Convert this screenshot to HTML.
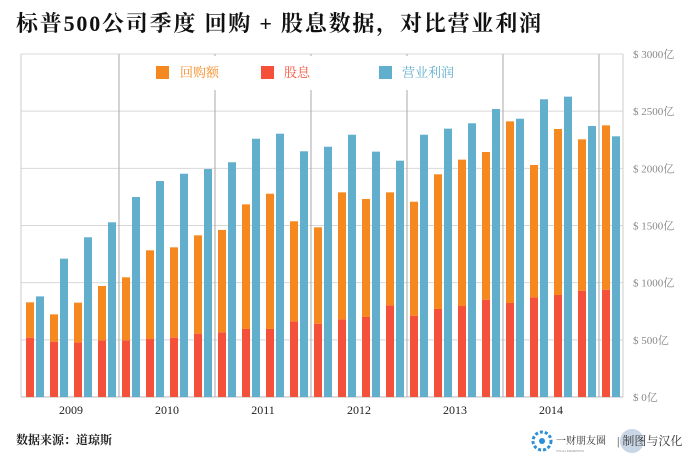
<!DOCTYPE html>
<html><head><meta charset="utf-8"><style>
body{margin:0;background:#fff;width:700px;height:471px;overflow:hidden;font-family:"Liberation Serif","Noto Serif CJK SC",serif;}
svg text{font-family:"Liberation Serif","Noto Serif CJK SC",serif;}
</style></head><body>
<svg id="chart" width="700" height="471">
<text x="16" y="31" font-size="22" font-weight="bold" letter-spacing="1.8" fill="#111">标普500公司季度 回购 + 股息数据，对比营业利润</text>
<g id="grid"></g><g id="bars"></g><g id="legend"></g><g id="axis"></g>
<text x="16" y="444" font-size="12" font-weight="bold" fill="#222">数据来源：道琼斯</text>
<g>
<circle cx="632" cy="441" r="12" fill="#c9d6e6"/>
<circle cx="542" cy="441" r="9" fill="none" stroke="#2a8fd8" stroke-width="3" stroke-dasharray="3 2"/>
<circle cx="542" cy="441" r="3" fill="#2a8fd8"/>
<text x="556" y="444" font-size="10" fill="#333">一财朋友圈</text>
<text x="556" y="452" font-size="3.5" fill="#888">YICAI MOMENTS</text>
<text x="617" y="445" font-size="12" fill="#333">| 制图与汉化</text>
</g>
</svg>
<script>
const years=['2009','2010','2011','2012','2013','2014'];
const dividends=[519,484,478,496,496,507,519,554,566,595,595,662,641,679,700,802,711,770,796,851,822,872,892,930,938];
const buybacks=[309,239,347,475,551,776,790,860,895,1090,1183,875,843,1111,1032,988,997,1178,1280,1292,1589,1157,1452,1324,1438];
const profits=[880,1210,1397,1528,1749,1889,1953,1994,2053,2259,2303,2149,2189,2294,2146,2067,2294,2347,2394,2519,2434,2604,2627,2370,2280];
const yTicks=[0,500,1000,1500,2000,2500,3000];
const NS='http://www.w3.org/2000/svg';
const L=21,R=623,T=54,B=397,MAX=3000;
const y=v=>B-(v/MAX)*(B-T);
const x=i=>26+i*24;
function mk(tag,attrs,parent,txt){const e=document.createElementNS(NS,tag);for(const k in attrs)e.setAttribute(k,attrs[k]);if(txt!==undefined)e.textContent=txt;parent.appendChild(e);return e;}
const grid=document.getElementById('grid'),bars=document.getElementById('bars'),axis=document.getElementById('axis'),leg=document.getElementById('legend');
yTicks.forEach(t=>{
 const ln=mk('line',{x1:L,x2:R,y1:y(t),y2:y(t),stroke:'#d8d8d8','stroke-width':1},grid);
 
 
 const tx=mk('text',{x:633,y:y(t)+4,'font-size':11,fill:'#888'},axis,'$ '+t+'亿');
 
 
});
mk('line',{x1:L,x2:L,y1:T,y2:B,stroke:'#ccc'},grid);
mk('line',{x1:R,x2:R,y1:T,y2:B,stroke:'#ccc'},grid);
mk('line',{x1:L,x2:R,y1:B,y2:B,stroke:'#bbb'},grid);
const n=profits.length;
for(let k=1;k<=years.length;k++){
 const dx=(x(4*k-1)+18+x(Math.min(4*k,n-1)))/2;
 const d=mk('line',{x1:dx,x2:dx,y1:T,y2:B,stroke:'#aaa'},grid);
 
 
}
years.forEach((yr,k)=>{
 const cx=(x(4*k)+x(4*k+3)+18)/2;
 const t=mk('text',{x:cx,y:414,'font-size':12,fill:'#222','text-anchor':'middle'},axis,yr);
 
 
});
for(let i=0;i<n;i++){
 const d=dividends[i],b=buybacks[i],p=profits[i];
 const r1=mk('rect',{x:x(i),y:y(d),width:8,height:B-y(d),fill:'#f5503a'},bars);
 
 
 const r2=mk('rect',{x:x(i),y:y(d+b),width:8,height:y(d)-y(d+b),fill:'#f5891f'},bars);
 
 
 const r3=mk('rect',{x:x(i)+10,y:y(p),width:8,height:B-y(p),fill:'#62afcd'},bars);
 
 
}
mk('rect',{x:148,y:56,width:325,height:34,fill:'#fff'},leg);
const items=[['回购额','#f5891f',156,180],['股息','#f5503a',261,284],['营业利润','#62afcd',379,402]];
items.forEach(it=>{
 const s=mk('rect',{x:it[2],y:66,width:13,height:13,fill:it[1]},leg);
 
 
 const t=mk('text',{x:it[3],y:77,'font-size':13,fill:it[1]},leg,it[0]);
 
 
});
</script>
</body></html>
